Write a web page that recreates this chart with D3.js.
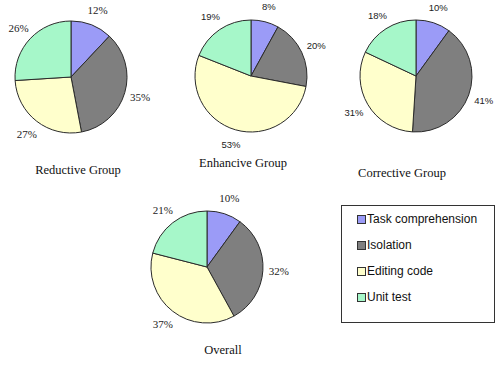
<!DOCTYPE html>
<html>
<head>
<meta charset="utf-8">
<script src="https://cdn.jsdelivr.net/npm/d3@7"></script>
<style>
  body { margin: 0; background: #ffffff; }
</style>
</head>
<body>
<script>
// data
	var categories = ['Task comprehension', 'Isolation', 'Editing code', 'Unit test'],
		reductive = [12, 35, 27, 26],
		enhancive = [8, 20, 53, 19],
		corrective = [10, 41, 31, 18],
		overall = [10, 32, 37, 21],
		titles = ['Reductive Group', 'Enhancive Group', 'Corrective Group', 'Overall'];

// parameters for layout
	var width = 501,
		height = 368,
		radius = 56,
		colors = ['#9b9bf7', '#7f7f7f', '#ffffcc', '#a6f7c9'],
		serif = '"Liberation Serif", "Times New Roman", serif',
		sans = '"Liberation Sans", Arial, sans-serif';

	var panels = [
		{ values: reductive,  title: titles[0], cx: 71,  cy: 77,  tx: 78,  ty: 174, font: serif, size: 11 },
		{ values: enhancive,  title: titles[1], cx: 251, cy: 76,  tx: 243, ty: 167, font: sans,  size: 9.5 },
		{ values: corrective, title: titles[2], cx: 416, cy: 76,  tx: 402, ty: 177, font: sans,  size: 9.5 },
		{ values: overall,    title: titles[3], cx: 207, cy: 267, tx: 223, ty: 354, font: serif, size: 11 }
	];

	var svg = d3.select('body').append('svg')
		.attr('width', width)
		.attr('height', height);

	var pie = d3.pie().sort(null).value(function(d) { return d; }),
		arc = d3.arc().innerRadius(0).outerRadius(radius),
		labelArc = d3.arc().innerRadius(radius + 16).outerRadius(radius + 16);

	panels.forEach(function(p) {
		var g = svg.append('g')
			.attr('transform', 'translate(' + p.cx + ',' + p.cy + ')');

		var slices = pie(p.values);

		g.selectAll('path')
			.data(slices)
		  .enter().append('path')
			.attr('d', arc)
			.attr('fill', function(d, i) { return colors[i]; })
			.attr('stroke', '#2b2b2b')
			.attr('stroke-width', 1);

		g.selectAll('text')
			.data(slices)
		  .enter().append('text')
			.attr('transform', function(d) { return 'translate(' + labelArc.centroid(d) + ')'; })
			.attr('text-anchor', 'middle')
			.attr('dy', '0.35em')
			.style('font-family', p.font)
			.style('font-size', p.size + 'px')
			.style('fill', '#222')
			.text(function(d) { return d.data + '%'; });

		svg.append('text')
			.attr('x', p.tx)
			.attr('y', p.ty)
			.attr('text-anchor', 'middle')
			.style('font-family', serif)
			.style('font-size', '12.5px')
			.style('fill', '#111')
			.text(p.title);
	});

// legend
	var legend = svg.append('g')
		.attr('transform', 'translate(341,205)');

	legend.append('rect')
		.attr('x', 0.5)
		.attr('y', 0.5)
		.attr('width', 153)
		.attr('height', 117)
		.attr('fill', '#ffffff')
		.attr('stroke', '#333')
		.attr('stroke-width', 1);

	var rows = d3.scaleBand()
		.domain(categories)
		.range([1, 105]);

	var items = legend.selectAll('g.item')
		.data(categories)
	  .enter().append('g')
		.attr('class', 'item')
		.attr('transform', function(d) { return 'translate(0,' + (rows(d) + rows.bandwidth() / 2) + ')'; });

	items.append('rect')
		.attr('x', 16.5)
		.attr('y', -3.5)
		.attr('width', 8)
		.attr('height', 8)
		.attr('fill', function(d, i) { return colors[i]; })
		.attr('stroke', '#333');

	items.append('text')
		.attr('x', 26)
		.attr('y', 0)
		.attr('dy', '0.35em')
		.style('font-family', sans)
		.style('font-size', '12px')
		.style('fill', '#111')
		.text(function(d) { return d; });
</script>
</body>
</html>
